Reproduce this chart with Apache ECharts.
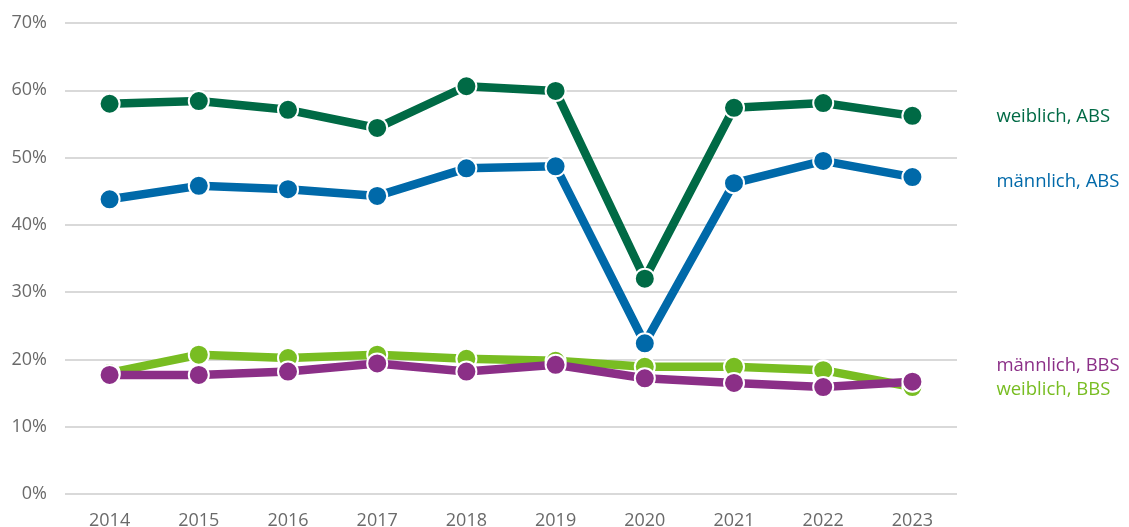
<!DOCTYPE html>
<html>
<head>
<meta charset="utf-8">
<script src="https://cdn.jsdelivr.net/npm/echarts@6/dist/echarts.min.js"></script>
<style>
  html, body { margin: 0; padding: 0; background: #fff; }
  #chart { width: 1129px; height: 527px; }
</style>
</head>
<body>
<div id="chart"></div>
<script>
// Jahre auf der x-Achse
const years = ['2014', '2015', '2016', '2017', '2018', '2019', '2020', '2021', '2022', '2023'];

// Anteile in Prozent
const weiblichABS = [58.0, 58.4, 57.1, 54.4, 60.6, 59.9, 32.0, 57.4, 58.1, 56.2];
const maennlichABS = [43.8, 45.8, 45.3, 44.3, 48.4, 48.7, 22.4, 46.2, 49.5, 47.1];
const weiblichBBS = [18.0, 20.7, 20.2, 20.7, 20.1, 19.8, 18.9, 18.9, 18.4, 15.9];
const maennlichBBS = [17.7, 17.7, 18.2, 19.4, 18.2, 19.2, 17.2, 16.5, 15.9, 16.7];

const FONT = '"Open Sans", "Noto Sans", sans-serif';

function lineSeries(name, data, color, labelOffsetY) {
  return {
    name: name,
    type: 'line',
    data: data,
    symbol: 'circle',
    symbolSize: 20,
    lineStyle: { width: 8.5, color: color },
    itemStyle: { color: color, borderColor: '#ffffff', borderWidth: 2 },
    emphasis: { disabled: true },
    animation: false,
    endLabel: {
      show: true,
      formatter: '{a}',
      distance: 84,
      offset: [0, labelOffsetY],
      color: color,
      fontFamily: FONT,
      fontSize: 18.5
    }
  };
}

const chart = echarts.init(document.getElementById('chart'));
chart.setOption({
  backgroundColor: '#ffffff',
  animation: false,
  grid: { left: 65, right: 172, top: 23, bottom: 33, containLabel: false, outerBoundsMode: 'none' },
  xAxis: {
    type: 'category',
    data: years,
    boundaryGap: true,
    axisLine: { show: false },
    axisTick: { show: false },
    axisLabel: { color: '#6a6a6a', fontFamily: FONT, fontSize: 18, margin: 18 }
  },
  yAxis: {
    type: 'value',
    min: 0,
    max: 70,
    interval: 10,
    axisLine: { show: false },
    axisTick: { show: false },
    splitLine: { lineStyle: { color: '#d9d9d9', width: 2 } },
    axisLabel: { color: '#6a6a6a', fontFamily: FONT, fontSize: 18, margin: 18, formatter: '{value}%' }
  },
  series: [
    lineSeries('weiblich, ABS', weiblichABS, '#006a45', 1),
    lineSeries('männlich, ABS', maennlichABS, '#0069a9', 5),
    lineSeries('weiblich, BBS', weiblichBBS, '#78bd22', 3),
    lineSeries('männlich, BBS', maennlichBBS, '#8b2f87', -16)
  ]
});
</script>
</body>
</html>
